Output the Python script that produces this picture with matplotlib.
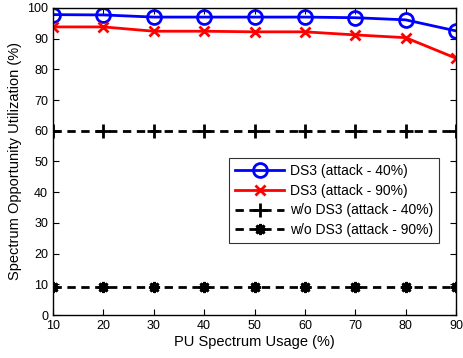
import numpy as np
import matplotlib
matplotlib.use('Agg')
from matplotlib import rcParams

rcParams['font.family'] = 'sans-serif'
rcParams['font.sans-serif'] = ['Liberation Sans']

import matplotlib.pyplot as plt

pu_usage = [10, 20, 30, 40, 50, 60, 70, 80, 90]
ds3_attack40 = [97.8, 97.7, 97.0, 97.0, 97.0, 97.0, 96.8, 96.1, 92.5]
ds3_attack90 = [93.8, 93.8, 92.4, 92.4, 92.2, 92.2, 91.2, 90.3, 83.6]
wo_ds3_attack40 = [60, 60, 60, 60, 60, 60, 60, 60, 60]
wo_ds3_attack90 = [9, 9, 9, 9, 9, 9, 9, 9, 9]

labels = ['DS3 (attack - 40%)', 'DS3 (attack - 90%)',
          'w/o DS3 (attack - 40%)', 'w/o DS3 (attack - 90%)']

fig = plt.figure(figsize=(4.63, 3.58), dpi=100)
ax = fig.add_axes([0.1145, 0.12, 0.8705, 0.858])

ax.plot(pu_usage, ds3_attack40, color='#0000ff', lw=2, marker='o', ms=10,
        mfc='none', mew=2, label=labels[0])
ax.plot(pu_usage, ds3_attack90, color='#ff0000', lw=2, marker='x', ms=7,
        mew=2, label=labels[1])
ax.plot(pu_usage, wo_ds3_attack40, color='black', lw=2, ls=(0, (3, 2)),
        marker='+', ms=10, mew=2, label=labels[2])
ax.plot(pu_usage, wo_ds3_attack90, color='black', lw=2, ls=(0, (3, 2)),
        marker=(8, 2, 0), ms=8, mew=2, label=labels[3])

ax.set_xlim(10, 90)
ax.set_ylim(0, 100)
ax.set_xticks(pu_usage)
ax.set_yticks(range(0, 101, 10))
ax.tick_params(direction='in', top=True, right=True, labelsize=9, length=4)
for s in ax.spines.values():
    s.set_linewidth(1)

ax.set_xlabel('PU Spectrum Usage (%)', fontsize=10.5, labelpad=2)
ax.set_ylabel('Spectrum Opportunity Utilization (%)', fontsize=10.5, labelpad=4)

leg = ax.legend(loc='upper left', bbox_to_anchor=(0.437, 0.511), fontsize=10,
                frameon=True, fancybox=False, edgecolor='black',
                handlelength=3.5, borderpad=0.45, labelspacing=0.4,
                handletextpad=0.4, borderaxespad=0)
leg.get_frame().set_linewidth(0.8)

fig.savefig('out.png', dpi=100)
